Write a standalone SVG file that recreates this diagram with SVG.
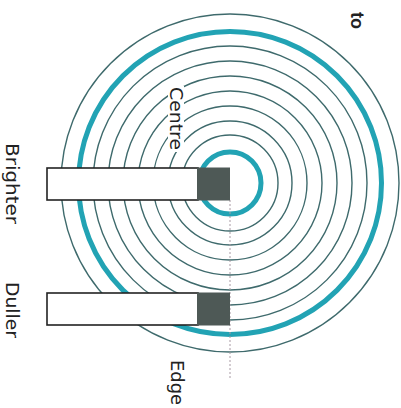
<svg xmlns="http://www.w3.org/2000/svg" width="401" height="408" viewBox="0 0 401 408">
  <style>
    .thin { fill: none; stroke: #3e6a6c; stroke-width: 1.4; }
    .teal { fill: none; stroke: #22a3b4; stroke-width: 5; }
    .bar { fill: #ffffff; stroke: #222; stroke-width: 1.6; }
    .dark { fill: #4e5956; }
    .lbl { font-family: "DejaVu Sans", "Liberation Sans", sans-serif; font-size: 17px; fill: #222; }
    .bold { font-family: "Liberation Sans", sans-serif; font-size: 18px; font-weight: bold; fill: #222; }
  </style>
  <rect width="401" height="408" fill="#ffffff"/>
  <g id="rings">
    <circle class="teal" cx="230" cy="183" r="31"/>
    <circle class="thin" cx="230" cy="183" r="48"/>
    <circle class="thin" cx="230" cy="183" r="62"/>
    <circle class="thin" cx="230" cy="183" r="77"/>
    <circle class="thin" cx="230" cy="183" r="92"/>
    <circle class="thin" cx="230" cy="183" r="107"/>
    <circle class="thin" cx="230" cy="183" r="122"/>
    <circle class="thin" cx="230" cy="183" r="137"/>
    <circle class="teal" cx="230" cy="183" r="151.5"/>
    <circle class="thin" cx="230" cy="183" r="169"/>
  </g>
  <g id="connectors">
    <line x1="230" y1="200" x2="230" y2="378" stroke="#a89aa4" stroke-width="1" stroke-dasharray="2 2"/>
  </g>
  <g id="brighter">
    <rect class="bar" x="47" y="168" width="151" height="32"/>
    <rect class="dark" x="197" y="167.5" width="33" height="33"/>
    <text class="lbl" transform="translate(6,143) rotate(90)" textLength="81" lengthAdjust="spacingAndGlyphs">Brighter</text>
  </g>
  <g id="duller">
    <rect class="bar" x="47" y="293" width="151" height="32"/>
    <rect class="dark" x="197" y="292.5" width="33" height="33"/>
    <text class="lbl" transform="translate(6,282) rotate(90)" textLength="56" lengthAdjust="spacingAndGlyphs">Duller</text>
  </g>
  <g id="centre">
    <rect x="168" y="86" width="16" height="66" fill="#ffffff"/>
    <text class="lbl" transform="translate(170,87) rotate(90)" textLength="63" lengthAdjust="spacingAndGlyphs">Centre</text>
  </g>
  <g id="edge">
    <text class="lbl" transform="translate(171,360) rotate(90)" textLength="45" lengthAdjust="spacingAndGlyphs">Edge</text>
  </g>
  <g id="title">
    <text class="bold" transform="translate(351,12) rotate(90)">to</text>
  </g>
</svg>
